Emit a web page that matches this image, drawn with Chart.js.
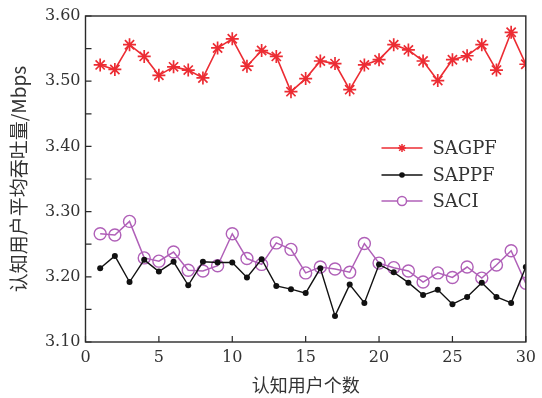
<!DOCTYPE html>
<html>
<head>
<meta charset="utf-8">
<script src="https://cdn.jsdelivr.net/npm/chart.js@4"></script>
<style>
  body { margin: 0; background: #fff; }
  #wrap { width: 542px; height: 398px; }
</style>
</head>
<body>
<div id="wrap"><canvas id="myChart" width="542" height="398"></canvas></div>
<script>
const users = [1, 2, 3, 4, 5, 6, 7, 8, 9, 10, 11, 12, 13, 14, 15, 16, 17, 18, 19, 20, 21, 22, 23, 24, 25, 26, 27, 28, 29, 30];
const sagpf = [3.525, 3.518, 3.556, 3.538, 3.509, 3.522, 3.517, 3.505, 3.551, 3.565,
               3.523, 3.547, 3.538, 3.484, 3.504, 3.531, 3.527, 3.487, 3.525, 3.533,
               3.556, 3.548, 3.531, 3.501, 3.533, 3.539, 3.556, 3.517, 3.575, 3.526];
const sappf = [3.213, 3.232, 3.192, 3.226, 3.208, 3.223, 3.187, 3.223, 3.222, 3.222,
               3.199, 3.227, 3.186, 3.181, 3.175, 3.213, 3.140, 3.188, 3.160, 3.219,
               3.207, 3.191, 3.172, 3.180, 3.158, 3.169, 3.191, 3.169, 3.160, 3.215];
const saci  = [3.266, 3.264, 3.285, 3.229, 3.224, 3.238, 3.210, 3.209, 3.217, 3.266,
               3.228, 3.219, 3.252, 3.242, 3.206, 3.215, 3.212, 3.207, 3.251, 3.221,
               3.214, 3.209, 3.192, 3.206, 3.199, 3.215, 3.198, 3.218, 3.240, 3.190];
const seriesNames = ['SAGPF', 'SAPPF', 'SACI'];
const xTitle = '认知用户个数';
const yTitle = '认知用户平均吞吐量/Mbps';

const red = '#ec2c33';
const black = '#111111';
const purple = '#b060b8';
const axisColor = '#2a2a2a';
const serif = "'DejaVu Serif', serif";
const cjk = "'Noto Sans CJK SC', sans-serif";

const pts = (arr) => users.map((u, i) => ({ x: u, y: arr[i] }));

// box frame + inward tick marks
const framePlugin = {
   id: 'frame',
   afterDraw(chart) {
      const ctx = chart.ctx;
      const a = chart.chartArea;
      const xs = chart.scales.x;
      const ys = chart.scales.y;
      ctx.save();
      ctx.strokeStyle = axisColor;
      ctx.lineWidth = 1.4;
      ctx.strokeRect(a.left, a.top, a.right - a.left, a.bottom - a.top);
      ctx.lineWidth = 1.2;
      ctx.beginPath();
      xs.ticks.forEach((t, i) => {
         const px = xs.getPixelForTick(i);
         ctx.moveTo(px, a.bottom);
         ctx.lineTo(px, a.bottom - 6);
      });
      ys.ticks.forEach((t, i) => {
         const py = ys.getPixelForTick(i);
         ctx.moveTo(a.left, py);
         ctx.lineTo(a.left + 6, py);
      });
      ctx.stroke();
      ctx.restore();
   }
};

// legend drawn inside the plot area
const legendPlugin = {
   id: 'insideLegend',
   afterDraw(chart) {
      const ctx = chart.ctx;
      const a = chart.chartArea;
      const x0 = a.left + 296;
      const x1 = x0 + 41;
      const mid = (x0 + x1) / 2;
      const rowY = [a.top + 132, a.top + 159, a.top + 185];
      ctx.save();
      chart.data.datasets.forEach((ds, i) => {
         const y = rowY[i];
         ctx.strokeStyle = ds.borderColor;
         ctx.lineWidth = 1.5;
         ctx.beginPath();
         ctx.moveTo(x0, y);
         ctx.lineTo(x1, y);
         ctx.stroke();
         if (ds.pointStyle === 'star') {
            ctx.beginPath();
            for (let k = 0; k < 4; k++) {
               const ang = k * Math.PI / 4;
               ctx.moveTo(mid - 4 * Math.cos(ang), y - 4 * Math.sin(ang));
               ctx.lineTo(mid + 4 * Math.cos(ang), y + 4 * Math.sin(ang));
            }
            ctx.stroke();
         } else if (ds.pointRadius < 4) {
            ctx.fillStyle = ds.borderColor;
            ctx.beginPath();
            ctx.arc(mid, y, 2.8, 0, Math.PI * 2);
            ctx.fill();
         } else {
            ctx.fillStyle = '#fff';
            ctx.beginPath();
            ctx.arc(mid, y, 4.5, 0, Math.PI * 2);
            ctx.fill();
            ctx.stroke();
         }
         ctx.fillStyle = '#333';
         ctx.font = "18px " + serif;
         ctx.textBaseline = 'middle';
         ctx.textAlign = 'left';
         ctx.fillText(ds.label, x1 + 10, y + 1);
      });
      ctx.restore();
   }
};

const config = {
   type: 'line',
   data: {
      datasets: [
         {
            label: seriesNames[0],
            data: pts(sagpf),
            borderColor: red,
            backgroundColor: red,
            borderWidth: 1.6,
            pointStyle: 'star',
            pointRadius: 6.5,
            pointBorderWidth: 1.7,
            pointBorderColor: red,
         },
         {
            label: seriesNames[1],
            data: pts(sappf),
            borderColor: black,
            backgroundColor: black,
            borderWidth: 1.4,
            pointStyle: 'circle',
            pointRadius: 3,
            pointBorderWidth: 0,
            pointBackgroundColor: black,
         },
         {
            label: seriesNames[2],
            data: pts(saci),
            borderColor: purple,
            backgroundColor: 'rgba(0,0,0,0)',
            borderWidth: 1.5,
            pointStyle: 'circle',
            pointRadius: 6,
            pointBorderWidth: 1.4,
            pointBackgroundColor: 'rgba(0,0,0,0)',
            pointBorderColor: purple,
         }
      ]
   },
   options: {
      responsive: false,
      animation: false,
      layout: {
         padding: { left: 0, right: 10.5, top: 16, bottom: 0 }
      },
      scales: {
         x: {
            type: 'linear',
            min: 0,
            max: 30,
            grid: { display: false, drawTicks: false },
            border: { display: false },
            ticks: {
               stepSize: 5,
               padding: 6,
               color: '#333',
               font: { family: serif, size: 16 },
               maxRotation: 0,
            },
            title: {
               display: true,
               text: xTitle,
               color: '#333',
               font: { family: cjk, size: 18 },
               padding: { top: 0, bottom: 2 },
            },
            afterFit: (scale) => { scale.height = 56; }
         },
         y: {
            min: 3.10,
            max: 3.60,
            grid: { display: false, drawTicks: false },
            border: { display: false },
            ticks: {
               stepSize: 0.05,
               padding: 5,
               color: '#333',
               font: { family: serif, size: 16 },
               callback: (v) => {
                  const r = Math.round(v * 100);
                  return r % 10 === 0 ? (r / 100).toFixed(2) : '';
               }
            },
            title: {
               display: true,
               text: yTitle,
               color: '#333',
               font: { family: cjk, size: 19 },
               padding: { top: 7, bottom: 0 },
            },
            afterFit: (scale) => { scale.width = 85.5; }
         }
      },
      plugins: {
         legend: { display: false },
         tooltip: { enabled: false },
      }
   },
   plugins: [framePlugin, legendPlugin]
};

const myChart = new Chart(document.getElementById('myChart'), config);
</script>
</body>
</html>
